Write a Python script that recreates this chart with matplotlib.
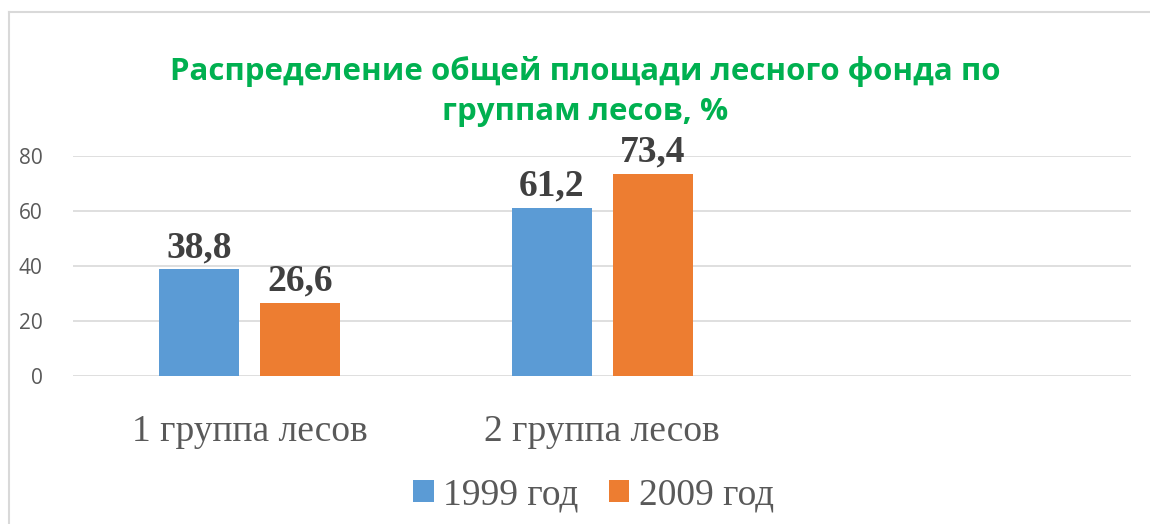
import numpy as np
import matplotlib
matplotlib.use("Agg")
import matplotlib.pyplot as plt
from matplotlib.lines import Line2D

categories = ["1 группа лесов", "2 группа лесов", ""]
years = ["1999 год", "2009 год"]
values_1999 = [38.8, 61.2, np.nan]
values_2009 = [26.6, 73.4, np.nan]
yticks = [0, 20, 40, 60, 80]
title = "Распределение общей площади лесного фонда по\nгруппам лесов, %"

C_BLUE, C_ORANGE = "#5B9BD5", "#ED7D31"
C_GRID, C_TEXT, C_LABEL = "#D9D9D9", "#595959", "#404040"
SERIF = ["Liberation Serif", "DejaVu Serif"]

fig = plt.figure(figsize=(11.5, 5.24), dpi=100)
ax = fig.add_axes([0.0635, 0.2824, 0.9203, 0.4199])

x = np.arange(len(categories))
width = 0.227
off = 0.143
b1 = ax.bar(x - off, values_1999, width, color=C_BLUE, label=years[0], zorder=3)
b2 = ax.bar(x + off, values_2009, width, color=C_ORANGE, label=years[1], zorder=3)

def fmt(vals):
    return ["" if np.isnan(v) else f"{v:.1f}".replace(".", ",") for v in vals]

for bars, vals in ((b1, values_1999), (b2, values_2009)):
    for t in ax.bar_label(bars, labels=fmt(vals), padding=3, clip_on=False):
        t.set_fontfamily(SERIF)
        t.set_fontweight("bold")
        t.set_fontsize(27)
        t.set_color(C_LABEL)

ax.set_xlim(-0.5, len(categories) - 0.5)
ax.set_ylim(0, 80)
ax.set_yticks(yticks)
ax.set_xticks(x)
ax.set_xticklabels(categories, fontfamily=SERIF, fontsize=27, color=C_TEXT)
for t in ax.get_yticklabels():
    t.set_fontfamily("Open Sans")
    t.set_fontsize(15)
    t.set_color(C_TEXT)
ax.tick_params(axis="x", length=0, pad=28)
ax.tick_params(axis="y", length=0, pad=22)
ax.grid(axis="y", color=C_GRID, linewidth=1.2, zorder=0)
for s in ax.spines.values():
    s.set_visible(False)

leg = fig.legend(handles=[b1, b2], loc="center", bbox_to_anchor=(0.516, 0.055),
                 ncol=2, frameon=False, handlelength=0.55, handleheight=0.55,
                 handletextpad=0.25, columnspacing=0.8,
                 prop={"family": SERIF, "size": 27})
for t in leg.get_texts():
    t.set_color(C_TEXT)

fig.text(0.509, 0.826, title, ha="center", va="center", fontsize=22.5,
         fontweight="bold", color="#00B050", family="Open Sans", linespacing=1.45)

# chart frame (cropped on right and bottom)
fig.add_artist(Line2D([0.0078, 1.0], [0.977, 0.977], color=C_GRID, linewidth=1.5,
                      transform=fig.transFigure))
fig.add_artist(Line2D([0.0078, 0.0078], [0.0, 0.977], color=C_GRID, linewidth=1.5,
                      transform=fig.transFigure))

fig.savefig("out.png", dpi=100, facecolor="white")
